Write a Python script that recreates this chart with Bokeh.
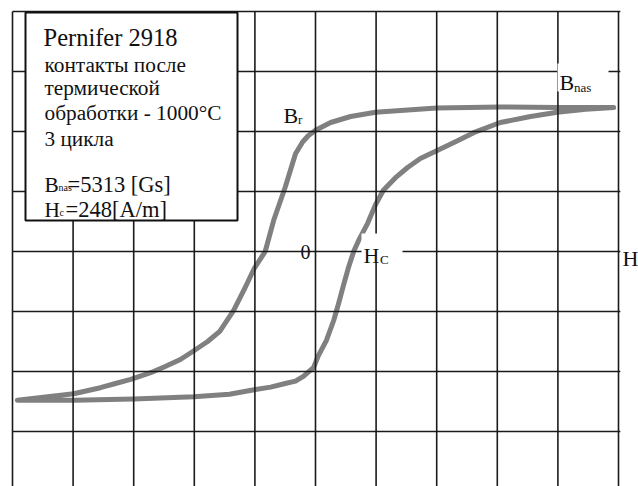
from bokeh.plotting import figure
from bokeh.models import Range1d, Label, BoxAnnotation
from bokeh.embed import file_html
from bokeh.resources import INLINE

# Hysteresis loop of Pernifer 2918, H and B in grid divisions
# descending branch (from +saturation down to -saturation)
h_desc = [4.92, 3.99, 3.05, 2.00, 0.99, 0.58, 0.25, 0.00, -0.12, -0.21, -0.33,
          -0.50, -0.69, -0.83, -1.01, -1.17, -1.35, -1.58, -1.78, -2.00, -2.23,
          -2.49, -2.72, -3.05, -3.30, -3.55, -3.99, -4.92]
b_desc = [2.40, 2.40, 2.41, 2.39, 2.32, 2.25, 2.15, 2.02, 1.93, 1.83, 1.63,
          1.07, 0.52, 0.00, -0.28, -0.62, -0.98, -1.33, -1.50, -1.65, -1.80,
          -1.92, -2.02, -2.13, -2.20, -2.27, -2.37, -2.48]
# ascending branch (from -saturation back up to +saturation)
h_asc = [-4.92, -3.99, -3.00, -2.01, -1.42, -0.99, -0.74, -0.50, -0.33, -0.20,
         -0.03, 0.05, 0.18, 0.30, 0.38, 0.46, 0.54, 0.63, 0.71, 0.86, 0.99, 1.12,
         1.32, 1.52, 1.73, 2.00, 2.31, 2.61, 3.05, 3.55, 3.99, 4.46, 4.92]
b_asc = [-2.48, -2.48, -2.46, -2.42, -2.38, -2.30, -2.26, -2.20, -2.16, -2.08,
         -1.93, -1.73, -1.48, -1.15, -0.87, -0.57, -0.28, 0.00, 0.18, 0.47, 0.78,
         1.02, 1.23, 1.40, 1.55, 1.68, 1.83, 1.98, 2.15, 2.25, 2.32, 2.37, 2.40]

grid_h = [-5, -4, -3, -2, -1, 0, 1, 2, 3, 4, 5]
grid_b = [4, 3, 2, 1, 0, -1, -2, -3]

info_title = "Pernifer 2918"
info_lines = ["контакты после", "термической", "обработки - 1000°C", "3 цикла"]
b_nas_text = "=5313 [Gs]"
h_c_text = "=248[A/m]"

W, H = 638, 486
X0, Y0, SX, SY = 315.0, 251.0, 60.6, 60.0   # origin pixel and pixels per division


def ux(px):
    return (px - X0) / SX


def vy(py):
    return (Y0 - py) / SY


p = figure(width=W, height=H, output_backend="svg", toolbar_location=None,
           x_axis_type=None, y_axis_type=None, min_border=0,
           x_range=Range1d(ux(0), ux(W)), y_range=Range1d(vy(H), vy(0)))
p.grid.visible = False
p.outline_line_color = None
p.background_fill_color = "white"
p.border_fill_color = "white"

# loop curve
p.line(h_desc + h_asc, b_desc + b_asc, line_color="#808080", line_width=5,
       line_cap="round", line_join="round")

# drawn grid (on top of the curve)
top, bottom = grid_b[0], vy(H)
p.segment(x0=grid_h, y0=[top] * len(grid_h), x1=grid_h, y1=[bottom] * len(grid_h),
          line_color="#1a1a1a", line_width=1.6)
p.segment(x0=[grid_h[0]] * len(grid_b), y0=grid_b, x1=[grid_h[-1] + 0.03] * len(grid_b),
          y1=grid_b, line_color="#1a1a1a", line_width=1.6)

SERIF = "Liberation Serif"


def text(t, px, py, size, align="left"):
    p.add_layout(Label(x=ux(px), y=vy(py), text=t, text_font=SERIF,
                       text_font_size=f"{size}px", text_color="#111111",
                       text_align=align, text_baseline="alphabetic"))


def white_box(x0, y0, x1, y1, border=False):
    p.add_layout(BoxAnnotation(left=ux(x0), right=ux(x1), top=vy(y0), bottom=vy(y1),
                               fill_color="white", fill_alpha=1.0,
                               line_color="#111111" if border else None,
                               line_alpha=1.0, line_width=2))


# white backing behind the on-grid labels
white_box(557, 63, 608, 91)
white_box(361, 233, 402, 262)

# axis annotations
text("0", 310, 251, 20, align="right")
text("B", 283, 115, 22)
text("r", 297.5, 119, 13)
text("B", 559, 82, 22)
text("nas", 573.5, 87, 13)
text("H", 363, 255, 22)
text("C", 379.5, 259, 13)
text("H", 622, 258, 22)

# info box
white_box(25, 12, 237, 220, border=True)
text(info_title, 43, 37, 24.5)
for t, base in zip(info_lines, [64, 87, 112, 138]):
    text(t, 44, base, 21.3)
text("B", 44, 184, 21.3)
text("nas", 58, 187, 10)
text(b_nas_text, 67, 184, 22.5)
text("H", 44, 209, 21.3)
text("c", 59, 212, 10)
text(h_c_text, 65, 209, 22.5)

open("out.html", "w").write(file_html(p, INLINE))
